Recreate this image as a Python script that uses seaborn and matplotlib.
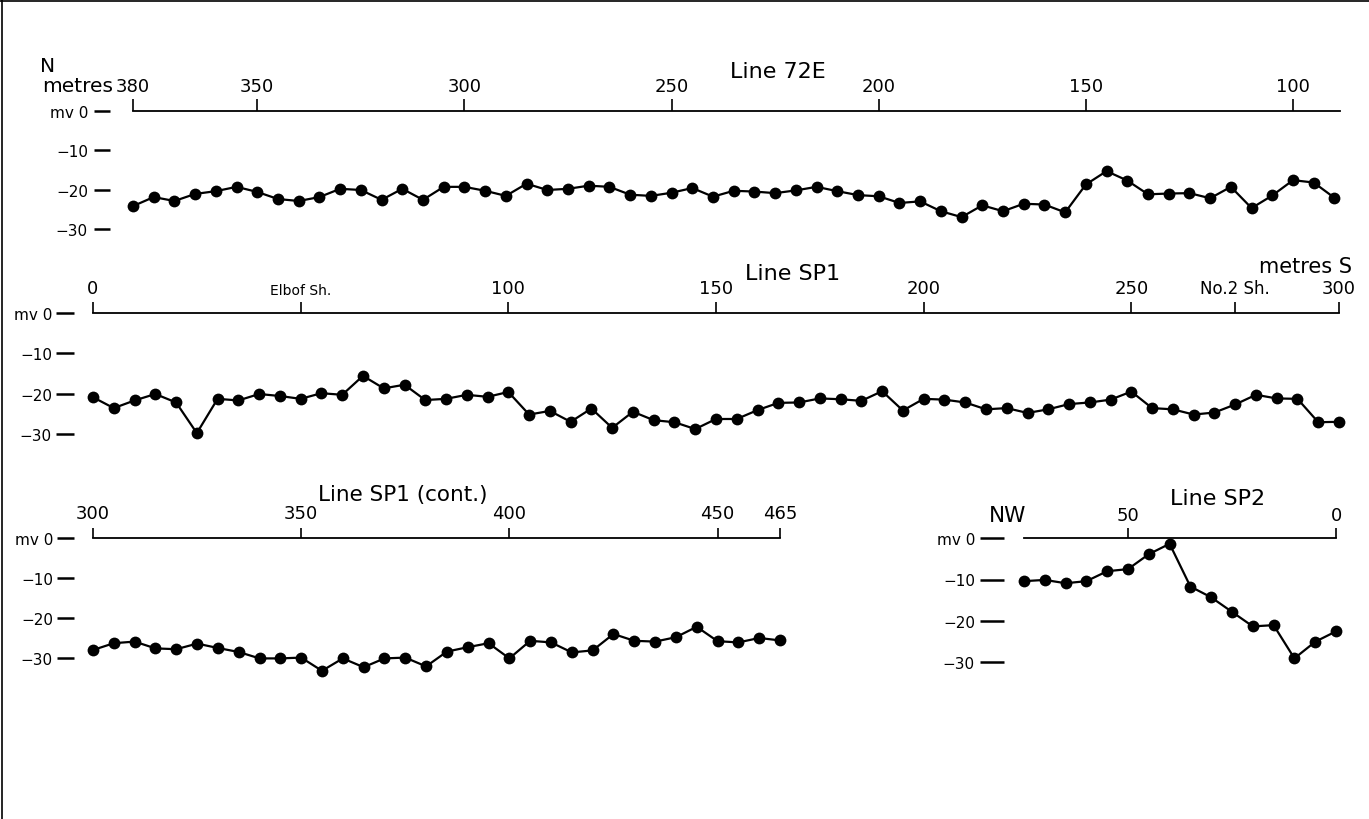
import matplotlib
matplotlib.use("Agg")
import matplotlib.pyplot as plt
from matplotlib.lines import Line2D
import seaborn as sns

sns.set_style("white")
plt.rcParams["font.family"] = ["DejaVu Sans"]
plt.rcParams["axes.unicode_minus"] = True
plt.rcParams["text.color"] = "black"
plt.rcParams["xtick.color"] = "black"
plt.rcParams["ytick.color"] = "black"
plt.rcParams["xtick.labelcolor"] = "black"
plt.rcParams["ytick.labelcolor"] = "black"

# ---------------- data ----------------
line72e_m = [380, 375, 370, 365, 360, 355, 350, 345, 340, 335, 330, 325, 320, 315, 310,
             305, 300, 295, 290, 285, 280, 275, 270, 265, 260, 255, 250, 245, 240, 235,
             230, 225, 220, 215, 210, 205, 200, 195, 190, 185, 180, 175, 170, 165, 160,
             155, 150, 145, 140, 135, 130, 125, 120, 115, 110, 105, 100, 95, 90]
line72e_mv = [-24.2, -21.9, -22.9, -21.1, -20.4, -19.3, -20.6, -22.4, -22.9, -21.9,
              -19.8, -20.1, -22.6, -19.8, -22.6, -19.3, -19.3, -20.3, -21.6, -18.5,
              -20.1, -19.8, -19.0, -19.3, -21.3, -21.6, -20.8, -19.6, -21.8, -20.3,
              -20.5, -20.9, -20.2, -19.3, -20.4, -21.4, -21.7, -23.4, -23.0, -25.5,
              -27.0, -24.0, -25.5, -23.6, -23.8, -25.8, -18.7, -15.3, -17.7, -21.2,
              -21.0, -20.9, -22.2, -19.3, -24.7, -21.5, -17.6, -18.2, -22.1]

sp1_m = [0, 5, 10, 15, 20, 25, 30, 35, 40, 45, 50, 55, 60, 65, 70, 75, 80, 85, 90, 95,
         100, 105, 110, 115, 120, 125, 130, 135, 140, 145, 150, 155, 160, 165, 170, 175,
         180, 185, 190, 195, 200, 205, 210, 215, 220, 225, 230, 235, 240, 245, 250, 255,
         260, 265, 270, 275, 280, 285, 290, 295, 300]
sp1_mv = [-20.9, -23.6, -21.7, -20.1, -22.2, -29.8, -21.3, -21.7, -20.1, -20.6,
          -21.3, -19.9, -20.3, -15.6, -18.7, -17.8, -21.6, -21.3, -20.3, -20.8,
          -19.6, -25.2, -24.3, -27.0, -23.7, -28.5, -24.5, -26.6, -27.1, -28.8,
          -26.3, -26.3, -24.1, -22.3, -22.2, -21.2, -21.4, -21.8, -19.4, -24.2,
          -21.3, -21.5, -22.2, -23.9, -23.6, -24.8, -23.9, -22.6, -22.2, -21.5,
          -19.5, -23.6, -23.9, -25.2, -24.7, -22.7, -20.3, -21.2, -21.3, -27.1, -27.0]

sp1c_m = [300, 305, 310, 315, 320, 325, 330, 335, 340, 345, 350, 355, 360, 365, 370,
          375, 380, 385, 390, 395, 400, 405, 410, 415, 420, 425, 430, 435, 440, 445,
          450, 455, 460, 465]
sp1c_mv = [-28.0, -26.3, -25.9, -27.6, -27.8, -26.4, -27.5, -28.5, -30.1, -30.1,
           -29.9, -33.2, -30.1, -32.3, -30.1, -29.9, -32.1, -28.4, -27.3, -26.3,
           -30.1, -25.7, -26.1, -28.6, -28.1, -24.0, -25.7, -25.9, -24.8, -22.2,
           -25.8, -26.1, -25.0, -25.6]

sp2_m = [75, 70, 65, 60, 55, 50, 45, 40, 35, 30, 25, 20, 15, 10, 5, 0]
sp2_mv = [-10.4, -10.1, -10.9, -10.4, -8.0, -7.5, -3.9, -1.4, -11.7, -14.3,
          -17.8, -21.3, -21.0, -29.0, -25.0, -22.5]

ytick_vals = [0, -10, -20, -30]
ytick_labels = ["mv 0", "\u221210", "\u221220", "\u221230"]

x72e_ticks = [380, 350, 300, 250, 200, 150, 100]
x72e_labels = ["380", "350", "300", "250", "200", "150", "100"]
xsp1_ticks = [0, 50, 100, 150, 200, 250, 275, 300]
xsp1_labels = ["0", "Elbof Sh.", "100", "150", "200", "250", "No.2 Sh.", "300"]
xsp1c_ticks = [300, 350, 400, 450, 465]
xsp1c_labels = ["300", "350", "400", "450", "465"]
xsp2_ticks = [50, 0]
xsp2_labels = ["50", "0"]

# ---------------- layout ----------------
W, H = 1369, 820
fig = plt.figure(figsize=(W / 100, H / 100), dpi=100)
PT = 0.72  # points per pixel


def make_axes(l, r, top, xlim, ylim, px_per_mv):
    bottom = top + (ylim[1] - ylim[0]) * px_per_mv
    ax = fig.add_axes([l / W, 1 - bottom / H, (r - l) / W, (bottom - top) / H])
    ax.set_xlim(*xlim)
    ax.set_ylim(*ylim)
    ax.patch.set_alpha(0)
    return ax


def style_axes(ax, xt, xl, ylen, yout, ypad, xlen, xpad):
    ax.set_xlabel("")
    ax.set_ylabel("")
    for s in ("bottom", "right"):
        ax.spines[s].set_visible(False)
    ax.spines["top"].set_visible(True)
    ax.spines["top"].set_linewidth(1.3)
    ax.spines["top"].set_color("black")
    ax.spines["left"].set_position(("outward", yout * PT))
    ax.spines["left"].set_visible(False)
    ax.xaxis.set_ticks_position("top")
    ax.xaxis.set_label_position("top")
    ax.set_xticks(xt)
    ax.set_xticklabels(xl)
    ax.tick_params(axis="x", which="major", direction="out", length=xlen * PT,
                   width=1.2, color="black", labelcolor="black", pad=xpad * PT,
                   labelsize=13, top=True, bottom=False, labeltop=True,
                   labelbottom=False)
    ax.set_yticks(ytick_vals)
    ax.set_yticklabels(ytick_labels)
    ax.tick_params(axis="y", which="major", direction="out", length=ylen * PT,
                   width=1.8, color="black", labelcolor="black", pad=ypad * PT,
                   labelsize=11, left=True, right=False)
    ax.grid(False)


def draw(ax, xs, ys):
    sns.lineplot(x=xs, y=ys, ax=ax, color="black", linewidth=1.6, marker="o",
                 markersize=8.5, markeredgewidth=0, estimator=None, sort=False,
                 clip_on=False)


# Line 72E
ax1 = make_axes(133, 1340, 112, (380, 88.66), (-33, 0), 3.93)
draw(ax1, line72e_m, line72e_mv)
style_axes(ax1, x72e_ticks, x72e_labels, 16, 23, 6, 12, 4)

# Line SP1
ax2 = make_axes(93, 1339, 314, (0, 300), (-32, 0), 4.03)
draw(ax2, sp1_m, sp1_mv)
style_axes(ax2, xsp1_ticks, xsp1_labels, 18, 19, 4, 11, 5)
for lbl in ax2.get_xticklabels():
    if lbl.get_text() == "Elbof Sh.":
        lbl.set_fontsize(10)
    elif lbl.get_text() == "No.2 Sh.":
        lbl.set_fontsize(12)

# Line SP1 (cont.)
ax3 = make_axes(93, 780, 539, (300, 465), (-35, 0), 4.0)
draw(ax3, sp1c_m, sp1c_mv)
style_axes(ax3, xsp1c_ticks, xsp1c_labels, 17, 19, 4, 10, 6)

# Line SP2
ax4 = make_axes(1024, 1336, 539, (75, 0), (-32, 0), 4.15)
draw(ax4, sp2_m, sp2_mv)
style_axes(ax4, xsp2_ticks, xsp2_labels, 24, 20, 5, 10, 4)

# ---------------- texts ----------------
def ftext(x, y, s, size, ha="left"):
    fig.text(x / W, 1 - y / H, s, fontsize=size, ha=ha, va="baseline", color="black")

ftext(40, 72, "N", 14.5)
ftext(113, 92, "metres", 14.5, ha="right")
ftext(778, 78, "Line 72E", 16, ha="center")
ftext(793, 280, "Line SP1", 16, ha="center")
ftext(1352, 273, "metres S", 15, ha="right")
ftext(403, 501, "Line SP1 (cont.)", 15.5, ha="center")
ftext(1008, 522, "NW", 15.5, ha="center")
ftext(1218, 505, "Line SP2", 16, ha="center")

# page frame (top and left edges)
fig.add_artist(Line2D([0, 1], [1 - 1.5 / H, 1 - 1.5 / H], transform=fig.transFigure,
                      color="black", linewidth=1.2))
fig.add_artist(Line2D([2 / W, 2 / W], [0, 1], transform=fig.transFigure,
                      color="black", linewidth=1.2))

fig.savefig("out.png", dpi=100, facecolor="white")
